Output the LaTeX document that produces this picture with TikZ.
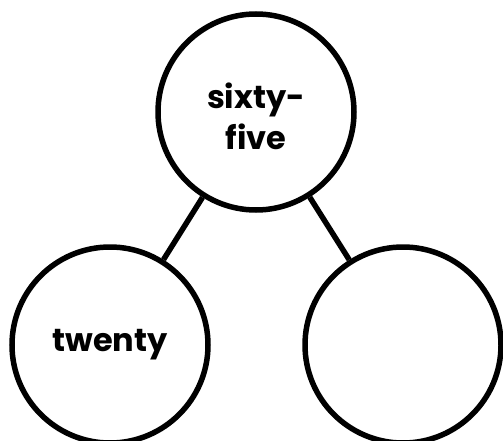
\documentclass[tikz,border=0pt]{standalone}
\usepackage{fontspec}
\setmainfont{Poppins}
\usetikzlibrary{positioning}
\definecolor{figink}{HTML}{000000}

\begin{document}
\begin{tikzpicture}[x=1pt, y=1pt,
  partcircle/.style={circle, draw=figink, line width=5.5pt, minimum size=196pt,
    inner sep=0pt, align=center, font=\fontsize{32}{41}\selectfont\bfseries},
  bondline/.style={draw=figink, line width=5.5pt}]
\useasboundingbox (0,0) rectangle (503,-441);
% Number bond: the whole on top, its two parts below.
\node[partcircle] (whole) at (256,-112)
  {\raisebox{-15pt}[0pt][0pt]{\begin{tabular}{@{}c@{}}sixty-\\five\end{tabular}}};
\node[partcircle] (partA) at (110,-345) {twenty};
\node[partcircle] (partB) at (403,-345) {};
\draw[bondline] (whole) -- (partA);
\draw[bondline] (whole) -- (partB);
\end{tikzpicture}
\end{document}
